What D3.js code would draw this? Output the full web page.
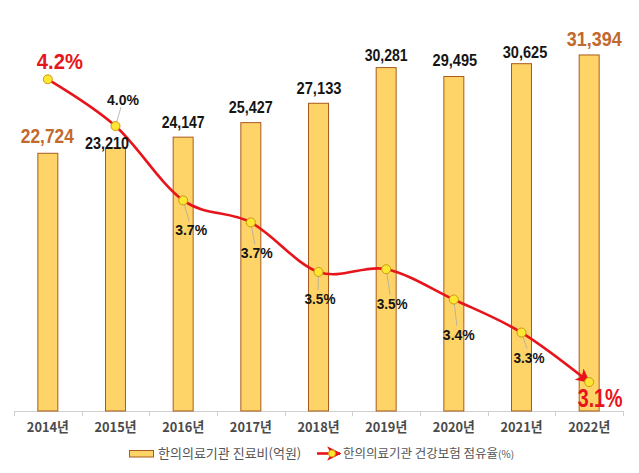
<!DOCTYPE html>
<html><head><meta charset="utf-8">
<script src="https://cdn.jsdelivr.net/npm/d3@7"></script>
<style>
html,body{margin:0;padding:0;background:#fff;}
svg{display:block;}
.num{font-family:"Liberation Sans",Arial,sans-serif;font-weight:bold;}
.kr{font-family:"Noto Sans CJK KR","Noto Sans",sans-serif;}
</style></head>
<body>
<svg id="chart" width="639" height="473"></svg>
<script>
const years = ['2014년','2015년','2016년','2017년','2018년','2019년','2020년','2021년','2022년'];
const costs = [22724, 23210, 24147, 25427, 27133, 30281, 29495, 30625, 31394];
const shares = [4.2, 4.03, 3.76, 3.68, 3.50, 3.51, 3.40, 3.28, 3.10];
const shareLabels = ['4.2%','4.0%','3.7%','3.7%','3.5%','3.5%','3.4%','3.3%','3.1%'];
const legendLabels = ['한의의료기관 진료비(억원)', '한의의료기관 건강보험 점유율'];

// label placement and condensed widths (style, not data)
const costLabelShift = [[-0.5,-10],[-8.5,1],[0,-9],[0,-10],[0.5,-9.4],[0,-6.6],[1,-10],[3.5,-6],[5,-9]];
const costLabelWidth = [53, 44, 43, 44, 45, 43, 44.5, 44.5, 55];
const shareLabelShift = [[12,-10],[7.5,-21],[8,35],[6,36],[1.5,32],[6,40],[5,40],[7.5,30],[11,25]];
const shareLabelWidth = [46, 32, 32, 32, 31, 31, 32, 31, 45];

const svg = d3.select('#chart');
const baseY = 411;
const x = d3.scaleBand().domain(years).range([14, 623]).paddingInner(0.69).paddingOuter(0.345);
const yBar = d3.scaleLinear().domain([0, 36240]).range([baseY, 0]);
const yLine = d3.scaleLinear().domain([2.995, 4.488]).range([baseY, 0]);
const cx = d => x(d) + x.bandwidth() / 2;
const step = x.step();

const barFill = '#FED468', barStroke = '#A85A1E';
const red = '#E8141B';

// axis
const axis = svg.append('g');
axis.append('line').attr('x1', 14).attr('x2', 623).attr('y1', baseY + 0.5).attr('y2', baseY + 0.5)
  .attr('stroke', '#cfcfcf').attr('stroke-width', 1);
d3.range(years.length + 1).forEach(i => {
  const tx = Math.round(14 + i * step) + 0.5;
  axis.append('line').attr('x1', tx).attr('x2', tx).attr('y1', baseY).attr('y2', baseY + 5)
    .attr('stroke', '#cfcfcf');
});
axis.selectAll('text.year').data(years).join('text')
  .attr('class', 'kr').attr('x', d => cx(d)).attr('y', 432)
  .attr('text-anchor', 'middle').attr('font-size', 13.5).attr('font-weight', 'bold')
  .attr('fill', '#4a4a4a').attr('textLength', 42).attr('lengthAdjust', 'spacingAndGlyphs')
  .text(d => d);

// bars
svg.append('g').selectAll('rect').data(costs).join('rect')
  .attr('x', (d, i) => x(years[i]) + 0.5).attr('y', d => yBar(d))
  .attr('width', x.bandwidth() - 1).attr('height', d => baseY - yBar(d))
  .attr('fill', barFill).attr('stroke', barStroke).attr('stroke-width', 1);

// line
const pts = shares.map((v, i) => [cx(years[i]), yLine(v)]);
const defs = svg.append('defs');
defs.append('marker').attr('id', 'arrow').attr('viewBox', '0 0 10 10')
  .attr('refX', 9).attr('refY', 5).attr('markerWidth', 5.5).attr('markerHeight', 5.5)
  .attr('markerUnits', 'strokeWidth').attr('orient', 'auto')
  .append('path').attr('d', 'M0,0 L10,5 L0,10 L2.5,5 Z').attr('fill', red);

svg.append('path').datum(pts)
  .attr('d', d3.line().curve(d3.curveCardinal.tension(0)))
  .attr('fill', 'none').attr('stroke', red).attr('stroke-width', 2.6)
  .attr('marker-end', 'url(#arrow)');

// leader lines
const lg = svg.append('g');
shares.forEach((v, i) => {
  if (i === 0 || i === shares.length - 1) return;
  const [px, py] = pts[i];
  const lx = px + shareLabelShift[i][0] - 2;
  const by = py + shareLabelShift[i][1];
  const ly = shareLabelShift[i][1] < 0 ? by + 2 : by - 14;
  lg.append('line').attr('x1', px).attr('y1', py).attr('x2', lx).attr('y2', ly)
    .attr('stroke', '#aaaaaa').attr('stroke-width', 0.8);
});

// point markers
svg.append('g').selectAll('circle').data(pts).join('circle')
  .attr('cx', d => d[0]).attr('cy', d => d[1]).attr('r', 4.5)
  .attr('fill', '#FFE633').attr('stroke', '#C89A10').attr('stroke-width', 1);

// cost labels
svg.append('g').selectAll('text').data(costs).join('text')
  .attr('class', 'num')
  .attr('x', (d, i) => cx(years[i]) + costLabelShift[i][0])
  .attr('y', (d, i) => yBar(d) + costLabelShift[i][1])
  .attr('text-anchor', 'middle')
  .attr('font-size', (d, i) => (i === 0 || i === costs.length - 1) ? 20 : 17)
  .attr('fill', (d, i) => (i === 0 || i === costs.length - 1) ? '#C2692D' : '#151515')
  .attr('textLength', (d, i) => costLabelWidth[i]).attr('lengthAdjust', 'spacingAndGlyphs')
  .text(d => d3.format(',')(d));

// share labels
svg.append('g').selectAll('text').data(shareLabels).join('text')
  .attr('class', 'num')
  .attr('x', (d, i) => pts[i][0] + shareLabelShift[i][0])
  .attr('y', (d, i) => pts[i][1] + shareLabelShift[i][1])
  .attr('text-anchor', 'middle')
  .attr('font-size', (d, i) => i === 0 ? 22 : (i === shareLabels.length - 1 ? 25 : 15.5))
  .attr('fill', (d, i) => (i === 0 || i === shareLabels.length - 1) ? red : '#151515')
  .attr('textLength', (d, i) => shareLabelWidth[i]).attr('lengthAdjust', 'spacingAndGlyphs')
  .text(d => d);

// legend
const leg = svg.append('g');
leg.append('rect').attr('x', 129.5).attr('y', 450.5).attr('width', 24).attr('height', 6.5)
  .attr('fill', barFill).attr('stroke', barStroke).attr('stroke-width', 1);
leg.append('text').attr('class', 'kr').attr('x', 158).attr('y', 458)
  .attr('font-size', 13).attr('fill', '#555').text(legendLabels[0]);
leg.append('line').attr('x1', 317).attr('x2', 340).attr('y1', 453.5).attr('y2', 453.5)
  .attr('stroke', red).attr('stroke-width', 2.6).attr('marker-end', 'url(#arrow)');
leg.append('circle').attr('cx', 332).attr('cy', 453.5).attr('r', 3.5)
  .attr('fill', '#FFE633').attr('stroke', '#C89A10').attr('stroke-width', 1);
const t2 = leg.append('text').attr('class', 'kr').attr('x', 343).attr('y', 458)
  .attr('font-size', 12.5).attr('fill', '#555');
t2.append('tspan').text(legendLabels[1]);
t2.append('tspan').attr('font-size', 10).text('(%)');
</script>
</body></html>
